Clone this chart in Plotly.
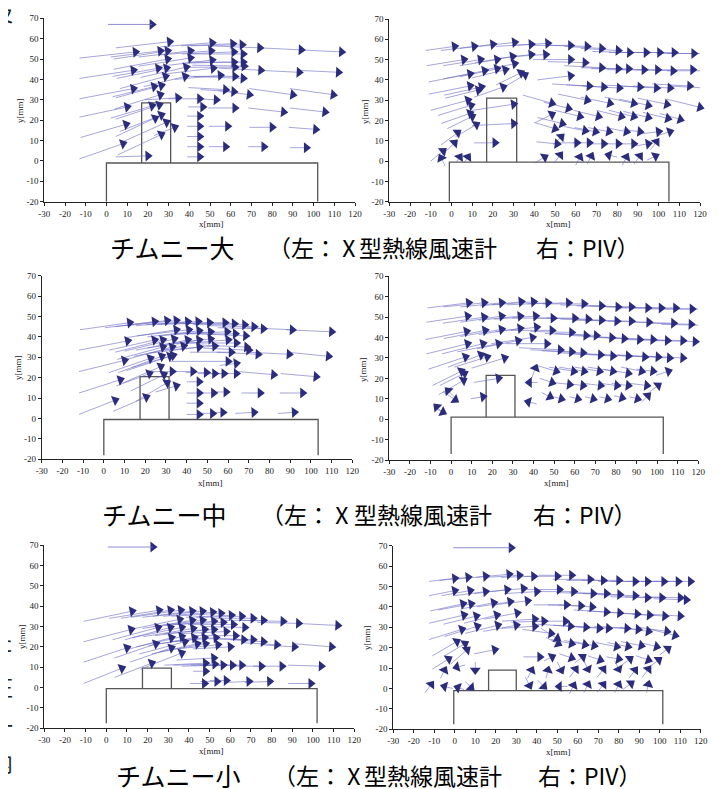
import math
import plotly.graph_objects as go

# The page body has an 8 px default margin: the figure is drawn 8 px in from the window's corner.
OFF = 8
W, H = 719 - OFF, 789 - OFF

x_ticks = [-30, -20, -10, 0, 10, 20, 30, 40, 50, 60, 70, 80, 90, 100, 110, 120]
y_ticks = [-20, -10, 0, 10, 20, 30, 40, 50, 60, 70]

# ---- arrow data: (head x, head y, u, v) in mm ----
p1_arrows = [
    (14, 53.5, 27, 3), (13, 44.5, 26, 4), (13, 35.5, 26, 5), (10, 26.5, 23, 5), (9.5, 18, 22, 6.5), (8, 8.5, 21, 7.5),
    (30.5, 58.5, 26, 3), (26, 54, 24, 3), (29.5, 54, 26, 4), (29.5, 50, 26, 5), (25, 45.5, 22, 4), (29, 45.5, 24, 5),
    (28.5, 41.5, 22, 6), (23, 36.5, 20, 5), (26.5, 37, 22, 6), (26, 32.5, 22, 7), (22, 27, 20, 6), (25.5, 27.5, 21, 7),
    (26.5, 22.5, 20, 8), (23.5, 21, 19, 9), (29, 19, 22, 10), (26.5, 13, 21, 10), (20, 2.5, 15.5, 0.5), (33, 16.5, 10, 4),
    (40.5, 54, 25, 3), (40.5, 50.5, 25, 4), (38.5, 46, 22, 5), (38, 41.5, 20, 5), (34.5, 31, 16, 1), (45, 30.5, 15, 0),
    (53, 30, 10, -0.5), (51, 58, 25, 2), (50.5, 54, 25, 2), (51, 49.5, 25, 3), (51.5, 45.5, 25, 3), (55, 42, 22, 2),
    (61, 57.5, 25, 1), (65.5, 57, 25, 0.5), (61.5, 53.5, 25, 1), (66, 52.5, 25, 0), (61.5, 48.5, 25, 0.5), (66, 48.5, 25, 0),
    (62, 46, 25, 0), (66.5, 46.5, 25, -0.5), (62, 41.5, 24, 0), (66, 40.5, 24, -1), (57.5, 35, 18, -1), (61.5, 34, 16, -1),
    (69, 32.5, 15, -2), (74, 55.5, 25, -1), (94, 54.5, 20, -1), (113.5, 53.5, 20, -1), (74.5, 44.5, 20, -1), (93, 43.5, 20, -1),
    (112, 43.5, 20, -1), (90, 32.5, 21, -3), (109.5, 32.5, 21, -3), (62, 26, 13, 0), (85.5, 24, 17, -2), (105.5, 24, 17, -2),
    (58.5, 17, 9, 0), (80, 16.5, 11, 0), (101, 15.5, 13, -1), (57.5, 7, 8, 0), (76, 7, 7.5, 0), (96.5, 6.5, 8, 0),
    (45, 2, 6, 0), (45, 7, 6, 0), (45, 12, 6, 0), (45, 17, 6, 0), (45, 22, 6, 0), (46.5, 26.5, 7, 0),
]

p2_arrows = [
    (1.5, 56.5, 14, 2), (11, 56.5, 16, 2), (20, 57.5, 16, 2), (30.5, 58.5, 17, 2), (38.5, 57.5, 17, 1), (46.5, 58, 17, 1),
    (57.5, 57, 18, 0), (65.5, 56.5, 18, -0.5), (72.5, 55.5, 18, -1), (80.5, 54.5, 18, -1), (86, 53.5, 18, -0.5), (94, 53.5, 18, 0),
    (100.5, 53.5, 18, 0), (107.5, 53.5, 18, 0), (117, 53, 18, 0), (122, 53, 18, 0),
    (6, 50, 18, 3), (14, 50, 18, 3), (22, 50, 18, 3), (29.5, 51.5, 18, 3), (38.5, 52.5, 16, 2), (45.5, 52.5, 16, 1),
    (57.5, 50, 18, 0), (64.5, 48.5, 18, -0.5), (72.5, 46, 18, -1), (80.5, 45.5, 18, -0.5), (85.5, 45.5, 18, 0), (93, 45, 18, 0),
    (99.5, 45, 18, 0), (107, 44.5, 18, -0.5), (116.5, 45, 18, 0), (122, 44.5, 18, 0),
    (9, 43, 20, 4), (16, 44.5, 20, 4), (22, 45.5, 18, 4), (26, 45, 16, 4), (30.5, 48, 14, 3), (33.5, 43.5, 12, 6),
    (35.5, 42.5, 10, 6), (57.5, 42, 16, 2),
    (9, 37, 20, 4), (14.5, 36.5, 18, 4), (13, 35, 16, 4), (25, 36.5, 14, 5), (66.5, 37, 18, -1), (73.5, 36.5, 18, -1),
    (81, 36, 18, -1), (91, 36.5, 18, -1), (99, 36, 18, -1), (105.5, 36, 18, -1), (115, 37, 18, -1), (122.5, 36, 18, -1),
    (8, 30, 18, 5), (9.5, 27.5, 16, 5), (30, 28, 20, 3), (48.5, 28.5, 14, -4), (56.5, 26, 12, -3), (65.5, 30, 14, -3),
    (76.5, 28.5, 14, -3), (88, 28.5, 14, -3), (95, 27.5, 14, -3), (104, 28, 14, -3), (120, 26.5, 16, -4), (48.5, 23, 8, 4),
    (9, 23.5, 14, 5), (10, 22, 12, 6), (12, 18, 10, 6), (30, 18.5, 20, 1), (53.5, 18.5, 12, -3), (62, 22, 12, -3),
    (71, 22, 12, -3), (82, 22, 12, -3), (88, 22, 12, -3), (95, 21.5, 12, -3), (104.5, 21, 12, -3), (110.5, 20.5, 10, -3),
    (3, 14, 8, 6), (50, 16, 10, -3), (64.5, 15, 10, -2), (69.5, 14.5, 10, -2), (76, 14.5, 10, -2), (84.5, 14.5, 10, -2),
    (91, 14.5, 8, -1), (100, 14.5, 8, 1), (105.5, 14.5, 6, 2),
    (1.5, 9, 6, 6), (21, 9, 10, 0), (51, 8.5, 10, -1), (53, 12, 4, 4), (60.5, 9, 10, 0), (66.5, 9, 8, 0),
    (73.5, 8.5, 8, 0), (80.5, 8.5, 8, 0), (88, 8.5, 8, 0), (95, 8.5, 6, 1), (99, 9.5, 3, 4),
    (-4, 5, 6, 5), (-5, 1.5, -2, 4), (4, 2, 2, 3), (8, 2, 2, 3), (45, 2, 5, 3), (52.5, 3, 3, 4),
    (62, 2, 2, 4), (67.5, 2.5, 2, 4), (76, 3, -4, 1), (84.5, 2, 2, 4), (91, 2.5, 3, 4), (98.5, 2.5, 4, 2),
]

p3_arrows = [
    (12.5, 47, 24, 3.5), (11.5, 38, 23.5, 4.5), (10, 28.5, 22, 5.5), (8, 19, 20, 6.5), (5.5, 9, 17.5, 7),
    (24.5, 47.5, 24, 3), (30.5, 48, 25, 3), (35, 48, 25, 2.5), (40.5, 47.5, 25, 2), (45.5, 47.5, 25, 1.5), (51, 47, 25, 1),
    (58.5, 47, 25, 0.5), (63, 46.5, 25, 0), (68, 46, 25, 0), (72.5, 45, 22, -0.5), (77, 44, 22, -0.5), (91, 43.5, 22, -1),
    (110, 42.5, 22, -1), (35, 43.5, 25, 4), (41, 43.5, 25, 3), (46, 43, 25, 3), (51.5, 42.5, 25, 2), (59.5, 42.5, 25, 1),
    (63.5, 41.5, 24, 0), (68.5, 40.5, 22, -1), (24.5, 38.5, 22, 5), (28.5, 38.5, 23, 6), (34, 39, 24, 6), (40.5, 38.5, 25, 5),
    (46, 38.5, 25, 4), (51.5, 39, 25, 3), (60, 38.5, 25, 2), (64, 37, 24, 0), (69, 35, 22, -1), (70, 33.5, 22, -1),
    (74.5, 31.5, 20, -1), (89.5, 31.5, 20, -1), (108.5, 30.5, 20, -2), (28.5, 35, 22, 6), (33, 35, 22, 6), (38.5, 35.5, 24, 5),
    (46, 35, 24, 3), (53.5, 35.5, 24, 2), (61.5, 32.5, 20, 0), (22.5, 29.5, 20, 7), (28, 30.5, 21, 8), (32, 30.5, 21, 7),
    (33.5, 31, 20, 6), (60, 28, 28, 0), (64, 27, 8, 1), (27.5, 25.5, 18, 8), (22, 22, 16, 6), (29, 21.5, 16, 8),
    (33, 23, 10, 0), (43, 23, 10, 0), (49.5, 22.5, 10, 0), (53.5, 22, 8, 0), (58, 22, 8, 0), (64, 22, 10, 0),
    (82, 21.5, 17, -1.5), (102.5, 20.5, 17, -1.5), (30.5, 17.5, 15, 9), (35, 16, 10, 3), (46, 18, 6, 0), (46, 12.5, 6, 0),
    (53, 12.5, 6, 0), (59, 13, 6, 0), (75.5, 12.5, 9, 0), (96, 12.5, 11, 0), (46, 7.5, 6, 0), (46, 2, 6, 0),
    (52.5, 2.5, 6, 0), (57.5, 3, 6, 0), (72.5, 3, 9, 0.5), (92, 3, 8, 0.5), (20.5, 10.5, 16, 7),
]

p4_arrows = [
    (8.5, 57, 20, 2.5), (16, 57, 20, 2), (24.5, 57, 20, 2), (34, 57.5, 20, 2), (40, 57.5, 20, 1.5), (47, 57, 20, 1),
    (57, 57, 20, 0.5), (64.5, 56.5, 20, 0), (73, 55.5, 20, -0.5), (81, 55, 20, -0.5), (87.5, 55, 20, -0.5), (95.5, 54.5, 20, -0.5),
    (102, 54.5, 20, 0), (109, 54.5, 20, 0), (117, 54, 20, 0), (124, 54, 20, 0),
    (8, 50.5, 20, 3), (16, 50, 20, 3), (24.5, 50.5, 20, 3), (33.5, 50.5, 20, 2), (41, 50.5, 20, 1.5), (49.5, 49.5, 20, 0),
    (60, 49.5, 20, 0), (66.5, 49, 20, -0.5), (73, 48.5, 20, -0.5), (80.5, 48, 20, -0.5), (87.5, 48, 20, -0.5), (96, 47.5, 20, -0.5),
    (108, 47, 20, -0.5), (116.5, 46.5, 20, -0.5), (122, 46, 20, -0.5),
    (7.5, 43, 20, 4), (16.5, 43.5, 20, 4), (24.5, 44, 20, 3.5), (33.5, 44.5, 20, 3), (41.5, 45, 20, 2), (49, 43.5, 20, 0),
    (58.5, 42.5, 20, -0.5), (65.5, 41, 20, -1), (70.5, 41, 20, -1), (78, 40, 20, -1), (84, 39.5, 20, -1), (91.5, 39, 20, -1),
    (98, 39, 20, -1), (105, 38.5, 20, -0.5), (112.5, 38.5, 20, -0.5), (118.5, 38, 20, -0.5),
    (8, 37, 20, 5), (15.5, 37, 20, 5), (23, 37, 20, 4), (32.5, 38.5, 20, 4), (39.5, 40, 20, 3), (46.5, 37, 20, 0),
    (53, 34, 20, -1), (58.5, 33, 20, -1), (64, 32.5, 20, -1), (72.5, 31.5, 20, -1), (78.5, 31, 20, -1), (86, 31, 20, -1),
    (94, 30.5, 20, -1), (100.5, 30.5, 20, -1), (106, 30, 20, -1), (112.5, 30, 20, -1),
    (7, 30.5, 18, 6), (14.5, 31.5, 16, 6), (17.5, 30.5, 16, 5), (26, 30, 16, 5),
    (5, 23.5, 14, 7), (6.5, 22.5, 12, 6), (6, 19, 12, 7), (23, 20, 12, 2), (41, 25, 2, 5), (51, 23.5, 10, -3),
    (59.5, 23.5, 12, -2), (64.5, 23.5, 12, -2), (72, 23.5, 12, -2), (78.5, 23.5, 12, -2), (86, 22.5, 12, -2), (92.5, 23.5, 10, -2),
    (98, 23.5, 8, -1), (105.5, 23.5, 6, 2),
    (38, 18, -4, 0), (49, 18, 6, -2), (57.5, 17, 8, -1), (64, 16.5, 8, -1), (72.5, 16.5, 8, -1), (80.5, 16.5, 8, -1),
    (86, 16.5, 8, -1), (95, 16.5, 8, -1), (100.5, 16.5, 4, 3),
    (-1.5, 14, -4, 4), (2, 9.5, 6, -4), (15.5, 11, 6, 1), (37.5, 8.5, -4, 1), (48, 11, 4, -2), (53.5, 10, 4, -1),
    (61.5, 10, 4, -1), (69, 10, 4, -1), (76, 10, 4, -1), (83, 10.5, 4, -1), (90.5, 10, 4, -1), (95.5, 11.5, 3, 3),
    (-7, 6, -3, 3), (-4, 3.5, 4, -2),
]

p5_arrows = [
    (12.5, 37.5, 23.5, 5), (12, 28.5, 23, 6), (10, 19.5, 21, 7), (7.5, 9.5, 18.5, 7.5),
    (25.5, 38, 24, 4), (31, 38, 24, 4), (36, 38, 24, 3.5), (41.5, 37.5, 24, 3), (46.5, 37.5, 24, 2.5), (51.5, 37, 24, 2),
    (55.5, 36.5, 24, 1.5), (60.5, 35.5, 22, 1), (65.5, 35, 22, 0.5), (71, 34, 20, 0), (76, 33, 20, 0), (85.5, 32.5, 20, -0.5),
    (93, 31.5, 20, -0.5), (112, 30.5, 20, -1),
    (35.5, 33.5, 24, 5), (41.5, 33, 24, 4), (46.5, 33, 24, 3), (52, 32.5, 24, 2), (56.5, 32, 24, 1), (61.5, 31, 22, 0),
    (67, 29.5, 20, -0.5),
    (25, 29.5, 22, 6), (31, 29.5, 22, 6), (36.5, 29.5, 24, 5), (42, 29, 24, 4), (47.5, 28.5, 24, 3), (52, 28.5, 24, 2),
    (58, 27.5, 22, 1), (62.5, 25.5, 20, 0), (66.5, 23.5, 18, -0.5), (71, 23.5, 16, -0.5), (76, 22.5, 16, -1), (82.5, 21, 16, -1),
    (91, 20, 16, -1), (109, 20, 18, -1.5),
    (31.5, 24.5, 22, 6), (36.5, 25, 22, 5), (42.5, 24.5, 22, 4), (47.5, 24.5, 22, 3), (53, 24.5, 22, 2), (60, 20, 18, 1),
    (24, 21.5, 20, 7), (31.5, 19.5, 20, 7), (36.5, 17, 20, 8), (38, 22.5, 22, 6), (44, 21.5, 22, 5), (48, 21.5, 22, 4),
    (54, 21, 20, 2), (22, 12, 18, 7), (52, 14.5, 18, 1),
    (48, 12, 20, 1), (52.5, 11.5, 20, 0.5), (56.5, 11, 20, 0.5), (61, 11, 20, 0), (65.5, 11, 20, 0), (75, 10.5, 14, 0),
    (85, 10.5, 14, 0), (104, 10.5, 16, -0.5),
    (48, 8, 6, 0), (47.5, 2, 7, 0), (53.5, 3, 8, 0), (58, 3.5, 8, 0), (69, 3, 12, 0.5), (79, 3, 12, 0.5), (99, 2, 11, 0),
]

p6_arrows = [
    (0, 54, 12.5, 1.5), (6.5, 54.5, 14, 1.5), (15, 55, 15, 1.5), (26.5, 56, 16, 1.5), (31.5, 55.5, 16, 1), (38.5, 55, 16, 0.5),
    (50, 55, 16, 0), (57, 55.5, 16, 0), (66, 53.5, 18, 0), (72.5, 53, 18, 0), (80, 53, 18, 0), (88, 52.5, 18, 0),
    (94, 52.5, 18, 0), (102, 52.5, 18, 0), (109, 52.5, 18, 0), (115, 52.5, 18, 0),
    (0, 48, 12.5, 2.5), (7.5, 48, 14, 2.5), (15, 47.5, 15, 2), (25.5, 48.5, 16, 2), (33.5, 49, 16, 1.5), (40, 47.5, 16, 1),
    (51, 48.5, 16, 0), (58, 47.5, 16, 0), (67.5, 46.5, 18, -0.5), (74, 46.5, 18, -0.5), (80.5, 46, 18, -0.5), (88, 45.5, 18, -0.5),
    (94, 44.5, 18, -0.5), (101, 44.5, 18, -0.5), (110, 44.5, 18, -0.5), (113, 43.5, 16, -0.5),
    (4, 41.5, 16, 3.5), (8, 41.5, 16, 3), (19, 42, 16, 3), (27, 42.5, 16, 2.5), (35.5, 43, 16, 2), (54.5, 41, 16, 0),
    (61.5, 40.5, 16, -0.5), (67, 40, 16, -1), (74, 37.5, 16, -1), (80.5, 37, 16, -1), (89, 36.5, 16, -1), (95, 36, 16, -1),
    (102.5, 35.5, 16, -1), (110, 35.5, 16, -1),
    (4.5, 36, 17, 4), (10.5, 35.5, 16, 4), (20.5, 36, 16, 4), (30.5, 37, 16, 3), (39, 34, 16, 1), (43.5, 33, 16, 0.5),
    (54, 33, 16, 0), (56.5, 30.5, 16, -1), (64, 30, 16, -1), (70.5, 29.5, 16, -1), (75, 29.5, 16, -1), (84, 29.5, 16, -1),
    (89.5, 29, 16, -1), (94.5, 28, 14, -2), (103.5, 28, 14, -2), (107.5, 26, 12, -3),
    (3.5, 29, 16, 5), (11, 30.5, 16, 5), (21, 31, 16, 4), (30, 31, 16, 3), (39, 30.5, 16, 1), (47, 27, 14, -2),
    (50, 24.5, 8, -5), (50.5, 22, 6, -3), (57, 22, 10, -2), (63.5, 21.5, 10, -2), (68, 21, 10, -2), (79, 20.5, 10, -2),
    (84.5, 20.5, 10, -2), (91, 21, 10, -2), (98.5, 20.5, 8, -2), (104, 19.5, 4, 3),
    (1, 23, 12, 7), (5, 22, 10, 6), (6, 19, 8, 7), (19.5, 19, 10, 2),
    (-3, 14.5, 8, 5), (-5, 9, 2, 4), (1, 10.5, -4, -1), (10, 9, 0, -4), (41.5, 15.5, 8, 0), (47.5, 15.5, 4, 2),
    (57, 15, 6, -2), (62.5, 15.5, 4, 3), (71, 14, 6, -2), (80, 14.5, 6, -1), (85.5, 14.5, 4, 3), (94.5, 14, 6, -2),
    (99.5, 14, 4, 3), (37.5, 9, 2, 4), (45.5, 9, 1, 4), (52, 9, 2, -4), (59, 9.5, 3, 4), (65, 9.5, 2, -4),
    (72.5, 9.5, 3, 4), (80, 9.5, 2, -4), (88, 9, 3, 4), (94.5, 9.5, 3, 4),
    (-11.5, 2, 3, 4), (-5, 1, -4, 1), (1.5, 0.5, -3, 1), (8, 0.5, 3, -3), (36.5, 1.5, 2, -4), (43.5, 1, 3, -3),
    (51, 1, -4, 0), (58, 1.5, 2, 4), (65, 2, 2, 4), (72.5, 2, 3, 4), (80, 2, 2, 4), (86, 2.5, 4, 3), (94.5, 2, 1, 4),
]

# reference (scale) arrow of each panel: (head x, head y, length)
ref_arrows = [(22, 67, 22), (22.5, 72.5, 23), (22.5, 71, 22.5), (22.5, 71.5, 23), (22.5, 69, 22.5), (27.5, 69, 29)]

# model geometry per panel: block (x0, x1, top, bottom), chimney (x0, x1, top)
blocks = [(0, 102, -1, -20), (-1, 105, -0.5, -20), (0, 103.5, -0.5, -18), (0, 103, 1, -17), (0, 102, -0.5, -17.5), (-0.5, 101.5, -1, -17.5)]
chimneys = [(17, 31, 28.5), (17, 31.5, 31), (17.5, 31.5, 20.5), (17, 31, 21.5), (17.5, 31.5, 9.5), (16.5, 30, 9)]

all_arrows = [p1_arrows, p2_arrows, p3_arrows, p4_arrows, p5_arrows, p6_arrows]

caption_names = ["チムニー大", "チムニー中", "チムニー小"]
caption_part_b = "（左： X"
caption_part_c = "型熱線風速計"
caption_part_d = "右：PIV）"
edge_chars = ["及", "た", "圧", "一", "内"]

# ---- layout geometry (window pixels of the reference) ----
panel_px = [  # left, right, top, bottom
    (44.3, 355.0, 18.3, 201.7),
    (389.3, 700.0, 19.0, 201.7),
    (41.7, 352.3, 275.7, 459.3),
    (389.3, 698.3, 276.3, 460.0),
    (44.3, 354.3, 545.0, 728.3),
    (393.3, 700.7, 545.7, 729.3),
]
xtitle_px = [(211, 224), (558, 224), (210, 483), (556, 483), (211, 751), (558, 752)]
ytitle_px = [(20, 110), (365, 112), (18, 368), (363, 370), (22, 637), (367, 638)]
cap_y = [247, 514, 775]
cap_a_x = [108, 100, 114]
cap_b_c = [311, 304, 316]
cap_c_c = [428, 423, 433]
cap_d_c = [588, 585, 590]
edge_px = [(2, 15), (2, 645), (2, 690), (2, 728), (2, 765)]


def fx(p):
    return (p - OFF) / W


def fy(p):
    return 1 - (p - OFF) / H


SHAFT = "rgba(105,105,195,0.75)"
HEAD = "#2b2d7c"
SERIF = "Liberation Serif"
JP = "Noto Sans CJK JP"

fig = go.Figure()
annotations = []
layout_axes = {}

for i in range(6):
    sfx = "" if i == 0 else str(i + 1)
    xa, ya = "x" + sfx, "y" + sfx
    l, r, t, b = panel_px[i]
    kx = (r - l) / 150.0
    ky = (b - t) / 90.0

    bx0, bx1, btop, bbot = blocks[i]
    fig.add_trace(go.Scatter(x=[bx0, bx0, bx1, bx1], y=[bbot, btop, btop, bbot], mode="lines",
                             line=dict(color="#555555", width=1.3), xaxis=xa, yaxis=ya, hoverinfo="skip"))
    cx0, cx1, ctop = chimneys[i]
    fig.add_trace(go.Scatter(x=[cx0, cx0, cx1, cx1], y=[btop, ctop, ctop, btop], mode="lines",
                             line=dict(color="#555555", width=1.3), xaxis=xa, yaxis=ya, hoverinfo="skip"))

    arrows = all_arrows[i]
    xs, ys, hx, hy, ang = [], [], [], [], []
    for (x1, y1, u, v) in arrows:
        xs += [x1 - u, x1, None]
        ys += [y1 - v, y1, None]
        hx.append(x1)
        hy.append(y1)
        ang.append(-math.degrees(math.atan2(v * ky, u * kx)))
    fig.add_trace(go.Scatter(x=xs, y=ys, mode="lines", line=dict(color=SHAFT, width=0.8),
                             xaxis=xa, yaxis=ya, hoverinfo="skip"))

    rx, ry, rl = ref_arrows[i]
    annotations.append(dict(x=rx, y=ry, ax=rx - rl, ay=ry, xref=xa, yref=ya, axref=xa, ayref=ya,
                            showarrow=True, arrowhead=0, arrowwidth=1, arrowcolor=SHAFT, text=""))
    hx.append(rx)
    hy.append(ry)
    ang.append(0)

    fig.add_trace(go.Scatter(x=hx, y=hy, mode="markers", cliponaxis=False,
                             marker=dict(symbol="triangle-right", size=9.5, color=HEAD, angle=ang,
                                         line=dict(width=0)),
                             xaxis=xa, yaxis=ya, hoverinfo="skip"))

    layout_axes["xaxis" + sfx] = dict(
        domain=[fx(l), fx(r)], range=[-30, 120], anchor=ya, tickmode="array", tickvals=x_ticks,
        ticktext=[str(v) for v in x_ticks], showline=True, linecolor="#222", linewidth=1, ticks="outside",
        ticklen=3, tickcolor="#222", showgrid=False, zeroline=False, automargin=False,
        tickfont=dict(family=SERIF, size=9, color="#222"), fixedrange=True)
    layout_axes["yaxis" + sfx] = dict(
        domain=[fy(b), fy(t)], range=[-20, 70], anchor=xa, tickmode="array", tickvals=y_ticks,
        ticktext=[str(v) for v in y_ticks], showline=True, linecolor="#222", linewidth=1, ticks="outside",
        ticklen=3, tickcolor="#222", showgrid=False, zeroline=False, automargin=False,
        tickfont=dict(family=SERIF, size=9, color="#222"), fixedrange=True)

    tx, ty = xtitle_px[i]
    annotations.append(dict(x=fx(tx), y=fy(ty), xref="paper", yref="paper", text="x[mm]", showarrow=False,
                            xanchor="center", yanchor="middle",
                            font=dict(family=SERIF, size=9, color="#222")))
    tx, ty = ytitle_px[i]
    annotations.append(dict(x=fx(tx), y=fy(ty), xref="paper", yref="paper", text="y[mm]", showarrow=False,
                            xanchor="center", yanchor="middle",
                            textangle=-90, font=dict(family=SERIF, size=9, color="#222")))

for k in range(3):
    yk = fy(cap_y[k])
    annotations.append(dict(x=fx(cap_a_x[k]), y=yk, xref="paper", yref="paper", xanchor="left", yanchor="middle",
                            text=caption_names[k], showarrow=False, font=dict(family=JP, size=25, color="#000")))
    annotations.append(dict(x=fx(cap_b_c[k]), y=yk, xref="paper", yref="paper", xanchor="center", yanchor="middle",
                            text=caption_part_b, showarrow=False, font=dict(family=JP, size=23, color="#000")))
    annotations.append(dict(x=fx(cap_c_c[k]), y=yk, xref="paper", yref="paper", xanchor="center", yanchor="middle",
                            text=caption_part_c, showarrow=False, font=dict(family=JP, size=23, color="#000")))
    annotations.append(dict(x=fx(cap_d_c[k]), y=yk, xref="paper", yref="paper", xanchor="center", yanchor="middle",
                            text=caption_part_d, showarrow=False, font=dict(family=JP, size=23, color="#000")))

# clipped fragments of the neighbouring page text at the left edge (drawn in an invisible clipping subplot)
fig.add_trace(go.Scatter(x=[e[0] - OFF for e in edge_px], y=[e[1] - OFF for e in edge_px], text=edge_chars,
                         mode="text", textfont=dict(family=JP, size=22, color="#222"), xaxis="x7", yaxis="y7",
                         hoverinfo="skip", cliponaxis=True))
layout_axes["xaxis7"] = dict(domain=[0, 40 / W], range=[0, 40], visible=False, fixedrange=True, anchor="y7")
layout_axes["yaxis7"] = dict(domain=[0, 1], range=[H, 0], visible=False, fixedrange=True, anchor="x7")

fig.update_layout(
    width=W, height=H, margin=dict(l=0, r=0, t=0, b=0, autoexpand=False),
    paper_bgcolor="white", plot_bgcolor="rgba(0,0,0,0)", showlegend=False,
    annotations=annotations, **layout_axes)

fig.write_html("out.html")
